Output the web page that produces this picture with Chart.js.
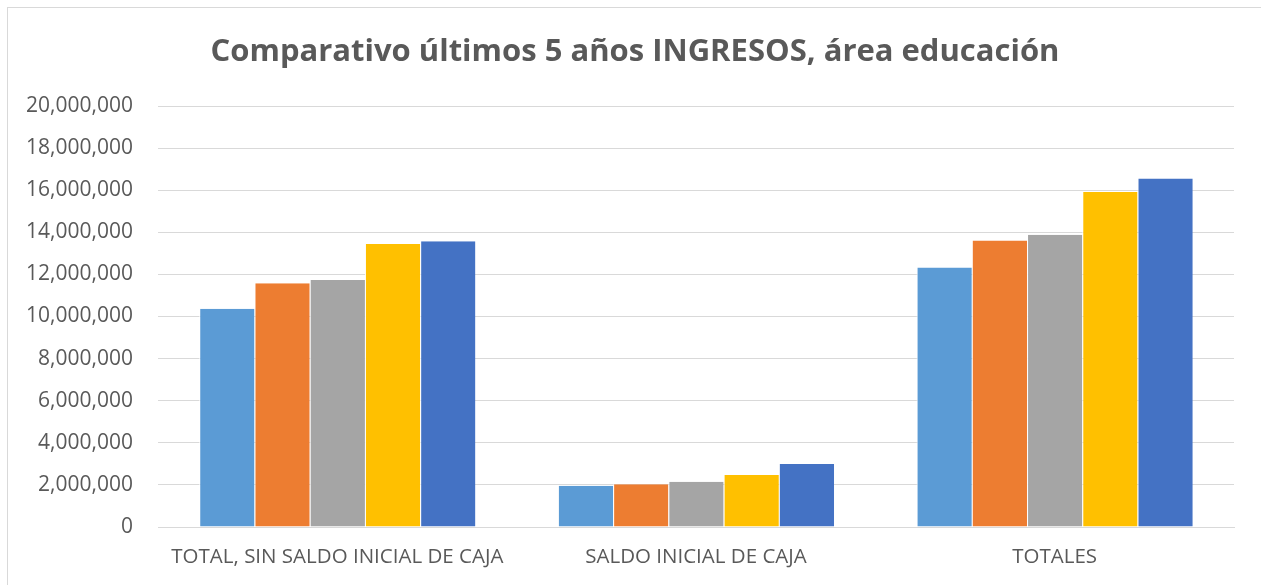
<!DOCTYPE html>
<html>
<head>
<meta charset="utf-8">
<script src="https://cdn.jsdelivr.net/npm/chart.js@4"></script>
<style>
  html, body { margin: 0; padding: 0; background: #ffffff; overflow: hidden; }
  #wrap { position: absolute; left: 0; top: 0; width: 1261px; height: 585px; }
  #frame { position: absolute; left: 7px; top: 7px; width: 1260px; height: 590px; border: 1px solid #d9d9d9; box-sizing: border-box; pointer-events: none; }
</style>
</head>
<body>
<div id="wrap">
  <canvas id="c" width="1261" height="585"></canvas>
  <div id="frame"></div>
</div>
<script>
const categories = ["TOTAL, SIN SALDO INICIAL DE CAJA", "SALDO INICIAL DE CAJA", "TOTALES"];
const seriesNames = ["Año 1", "Año 2", "Año 3", "Año 4", "Año 5"];
const serie1 = [10370000, 1960000, 12330000];
const serie2 = [11580000, 2030000, 13610000];
const serie3 = [11730000, 2150000, 13880000];
const serie4 = [13440000, 2470000, 15910000];
const serie5 = [13570000, 2990000, 16560000];
const colors = ["#5B9BD5", "#ED7D31", "#A5A5A5", "#FFC000", "#4472C4"];
const yTicksMin = 0, yTicksMax = 20000000, yTicksStep = 2000000;
const titleText = "Comparativo últimos 5 años INGRESOS, área educación";

const allSeries = [serie1, serie2, serie3, serie4, serie5];
const datasets = allSeries.map((d, i) => ({
  label: seriesNames[i],
  data: d,
  backgroundColor: colors[i],
  borderColor: "#ffffff",
  borderWidth: { left: 1, right: 0, top: 0, bottom: 0 },
  borderSkipped: false,
  barPercentage: 1.0,
  categoryPercentage: 0.77
}));

const FONT = "'Open Sans', 'Liberation Sans', sans-serif";

const titlePlugin = {
  id: "chartTitle",
  afterDraw(chart) {
    const ctx = chart.ctx;
    ctx.save();
    ctx.fillStyle = "#595959";
    ctx.font = "bold 31px " + FONT;
    ctx.textAlign = "center";
    ctx.textBaseline = "middle";
    ctx.fillText(titleText, 635, 52);
    ctx.restore();
  }
};

new Chart(document.getElementById("c"), {
  type: "bar",
  data: { labels: categories, datasets: datasets },
  plugins: [titlePlugin],
  options: {
    responsive: false,
    animation: false,
    layout: { padding: { left: 0, right: 27, top: 106, bottom: 8 } },
    plugins: {
      legend: { display: false },
      tooltip: { enabled: false },
      title: { display: false }
    },
    scales: {
      x: {
        grid: { display: false, drawTicks: false },
        border: { display: true, color: "#d9d9d9", width: 1 },
        ticks: {
          color: "#595959",
          font: { family: FONT, size: 20.5 },
          padding: 18,
          maxRotation: 0,
          autoSkip: false
        },
        afterFit: (s) => { s.height = 50; }
      },
      y: {
        min: yTicksMin,
        max: yTicksMax,
        grid: { color: "#d9d9d9", lineWidth: 1, drawTicks: false },
        border: { display: false },
        ticks: {
          stepSize: yTicksStep,
          color: "#595959",
          font: { family: FONT, size: 21 },
          padding: 25,
          callback: (v) => v.toLocaleString("en-US")
        },
        afterFit: (s) => { s.width = 158; }
      }
    }
  }
});
</script>
</body>
</html>
